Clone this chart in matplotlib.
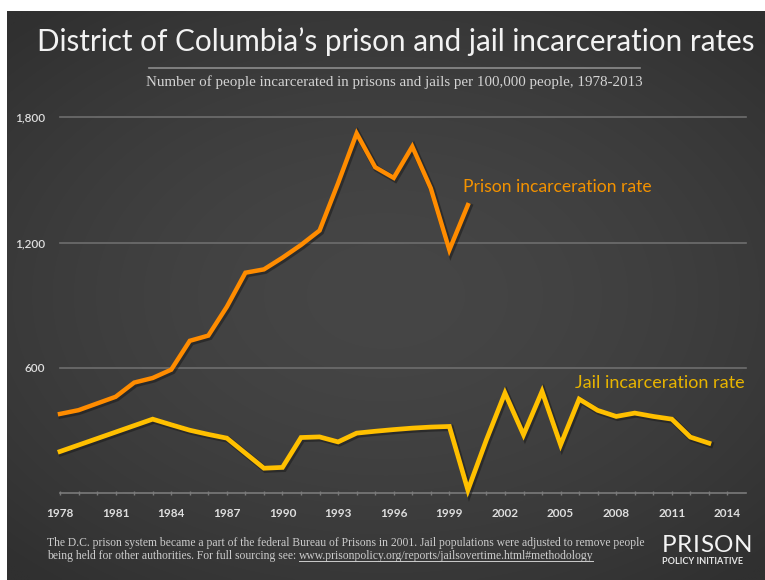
import numpy as np
import matplotlib
matplotlib.use("Agg")
import matplotlib.pyplot as plt
import matplotlib.patheffects as pe

W, H = 765, 580

prison_years = list(range(1978, 2001))
prison_rate = [380, 398, 430, 462, 530, 552, 592, 730, 755, 893, 1056, 1072,
               1128, 1189, 1258, 1485, 1723, 1561, 1510, 1660, 1460, 1165, 1380]

jail_years = list(range(1978, 2014))
jail_rate = [200, 231, 262, 293, 324, 355, 328, 302, 282, 264, 192, 120,
             124, 267, 270, 246, 288, 297, 305, 312, 317, 320, 15, 256,
             480, 280, 488, 232, 451, 397, 368, 384, 368, 355, 269, 240]

x_ticks = list(range(1978, 2015, 3))
y_ticks = [600, 1200, 1800]
y_tick_labels = ["600", "1,200", "1,800"]

title = "District of Columbia\u2019s prison and jail incarceration rates"
subtitle = "Number of people incarcerated in prisons and jails per 100,000 people, 1978-2013"
note1 = ("The D.C. prison system became a part of the federal Bureau of Prisons in 2001. "
         "Jail populations were adjusted to remove people")
note2 = "being held for other authorities. For full sourcing see: "
url = "www.prisonpolicy.org/reports/jailsovertime.html#methodology"

ORANGE = "#ff8c00"
YELLOW = "#ffc000"


def fx(px):
    return px / W


def fy(py):
    return (H - py) / H


fig = plt.figure(figsize=(W / 100, H / 100), dpi=100, facecolor="white")

# dark panel with a soft vignette
bg = fig.add_axes([fx(7), 0, 1 - fx(7), fy(11)])
gx, gy = np.meshgrid(np.linspace(-1, 1, 300), np.linspace(-1, 1, 230))
r = np.sqrt((gx * 0.9) ** 2 + (gy * 1.0) ** 2)
shade = 0x46 - (0x46 - 0x30) * np.clip(r / 1.3, 0, 1) ** 1.6
shade = shade / 255.0
bg.imshow(np.dstack([shade, shade, shade]), aspect="auto", extent=[0, 1, 0, 1],
          interpolation="bilinear")
bg.set_axis_off()

ax = fig.add_axes([fx(60), fy(493.3), fx(746) - fx(60), fy(117.3) - fy(493.3)])
ax.patch.set_alpha(0)
ax.set_xlim(1978, 2015)
ax.set_ylim(0, 1800)

for v in y_ticks:
    ax.axhline(v, color="#6e6e6e", lw=1.2, zorder=1, clip_on=False)

shadow = [pe.SimpleLineShadow(offset=(1.0, -1.0), shadow_color="#1a1a1a", alpha=0.55, linewidth=4.6),
          pe.Normal()]
ax.plot(jail_years, jail_rate, color=YELLOW, lw=3.4, solid_joinstyle="miter",
        clip_on=False, zorder=3, path_effects=shadow)
ax.plot(prison_years, prison_rate, color=ORANGE, lw=3.2, solid_joinstyle="miter",
        clip_on=False, zorder=4, path_effects=shadow)

for s in ["top", "right", "left"]:
    ax.spines[s].set_visible(False)
ax.spines["bottom"].set_color("#7a7a7a")
ax.spines["bottom"].set_linewidth(1.2)

ax.set_xticks(x_ticks)
ax.set_xticklabels([str(y) for y in x_ticks], fontfamily="Lato", fontweight="bold",
                   fontsize=8.5, color="#dedede")
ax.set_xticks(list(range(1978, 2015)), minor=True)
ax.tick_params(axis="x", which="both", direction="inout", length=3.5, width=1,
               color="#7a7a7a", pad=9)
ax.set_yticks(y_ticks)
ax.set_yticklabels(y_tick_labels, fontfamily="Lato", fontweight="semibold",
                   fontsize=8.5, color="#dedede")
ax.tick_params(axis="y", length=0, pad=11)

ax.text(1999.72, 1440, "Prison incarceration rate", color="#f39200", fontfamily="Lato",
        fontsize=12.6, va="baseline", ha="left")
ax.text(2014.95, 505, "Jail incarceration rate", color="#e8b400", fontfamily="Lato",
        fontsize=13, va="baseline", ha="right")

fig.text(fx(396), fy(51), title, color="#f2f2f2", fontfamily="Lato", fontsize=21.3,
         ha="center", va="baseline")
fig.add_artist(plt.Line2D([fx(149), fx(640)], [fy(67.7), fy(67.7)], color="#8c8c8c", lw=1.2))
fig.text(fx(394.5), fy(86), subtitle, color="#d4d4d4", fontfamily="Liberation Serif",
         fontsize=10.8, ha="center", va="baseline")

fig.text(fx(46.7), fy(545.7), note1, color="#cccccc", fontfamily="Liberation Serif",
         fontsize=8.35, ha="left", va="baseline")
t2 = fig.text(fx(46.7), fy(559.5), note2, color="#cccccc", fontfamily="Liberation Serif",
              fontsize=8.35, ha="left", va="baseline")
fig.canvas.draw()
rend = fig.canvas.get_renderer()
bb = t2.get_window_extent(rend)
t3 = fig.text(bb.x1 / W, fy(559.5), url, color="#cccccc", fontfamily="Liberation Serif",
              fontsize=8.35, ha="left", va="baseline")
bb3 = t3.get_window_extent(rend)
fig.add_artist(plt.Line2D([bb3.x0 / W, bb3.x1 / W], [fy(561.3), fy(561.3)],
                          color="#cccccc", lw=0.7))

# logo: spread the letters of PRISON over the width of the tagline
letters = "PRISON"
logo_left, logo_right = 662, 752
widths = []
for ch in letters:
    t = fig.text(0, 0, ch, fontfamily="Lato", fontsize=17.5)
    widths.append(t.get_window_extent(rend).width)
    t.remove()
gap = (logo_right - logo_left - sum(widths)) / (len(letters) - 1)
xpos = logo_left
for ch, w in zip(letters, widths):
    fig.text(fx(xpos), fy(551.7), ch, color="#f4f4f4", fontfamily="Lato",
             fontsize=17.5, ha="left", va="baseline")
    xpos += w + gap
fig.text(fx(662), fy(564.3), "POLICY INITIATIVE", color="#e6e6e6", fontfamily="Lato",
         fontweight="bold", fontsize=6.6, ha="left", va="baseline")

fig.savefig("out.png", dpi=100, facecolor="white")
